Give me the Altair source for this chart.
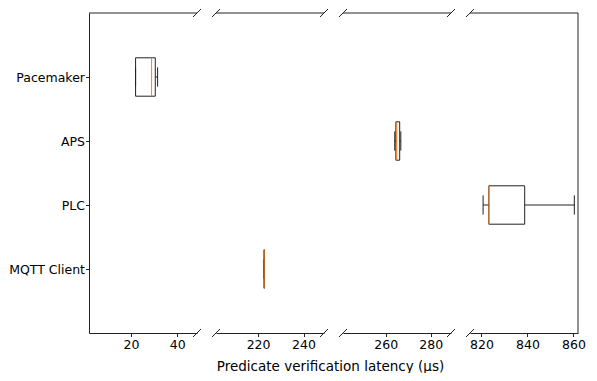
import altair as alt
import pandas as pd

categories = ["Pacemaker", "APS", "PLC", "MQTT Client"]
positions = [4, 3, 2, 1]
whisker_lo = [22.0, 264.0, 820.7, 222.7]
q1 = [22.0, 264.5, 823.2, 222.6]
median = [28.9, 264.9, 823.3, 222.7]
q3 = [30.5, 266.2, 838.8, 222.8]
whisker_hi = [31.5, 266.7, 860.4, 222.7]
panel_of = [0, 2, 3, 1]

panel_domains = [[1.9, 48.5], [201.5, 249.0], [241.0, 289.0], [815.0, 862.0]]
panel_ticks = [[20, 40], [220, 240], [260, 280], [820, 840, 860]]
x_title = "Predicate verification latency (µs)"

df = pd.DataFrame({
    "cat": categories, "pos": positions, "lo": whisker_lo, "q1": q1,
    "med": median, "q3": q3, "hi": whisker_hi, "panel": panel_of,
})
df["y_lo"] = df["pos"] - 0.3
df["y_hi"] = df["pos"] + 0.3
df["c_lo"] = df["pos"] - 0.15
df["c_hi"] = df["pos"] + 0.15

W, H = 108, 320
SP = 19
FONT = "DejaVu Sans"
INK = "#222222"

label_expr = " : ".join(
    f"datum.value == {p} ? '{c}'" for p, c in zip(positions, categories)
) + " : ''"

one = alt.Data(values=[{"k": 0}])


def seg(x0, y0, x1, y1):
    return alt.Chart(one).mark_rule(color=INK, strokeWidth=1, clip=False).encode(
        x=alt.value(x0), y=alt.value(y0), x2=alt.value(x1), y2=alt.value(y1)
    )


def slash(xc, yc):
    return seg(xc - 4, yc + 4, xc + 4, yc - 4)


def panel_chart(i):
    xs = alt.Scale(domain=panel_domains[i], nice=False, zero=False)
    ys = alt.Scale(domain=[0, 5], nice=False, zero=False)
    xaxis = alt.Axis(
        values=panel_ticks[i], grid=False, tickSize=3.5, labelPadding=2,
        labelFontSize=12.5, labelFont=FONT, labelColor="black",
        domainColor=INK, tickColor=INK, labelFlush=False,
        title=x_title if i == 1 else None,
        titleFont=FONT, titleFontSize=13.5, titleFontWeight="normal",
        titleColor="black",
        **({"titleX": 114, "titleY": 26,
            "titleAlign": "center", "titleBaseline": "top"} if i == 1 else {}),
    )
    if i == 0:
        yaxis = alt.Axis(
            values=positions, labelExpr=label_expr, title=None, grid=False,
            tickSize=3.5, labelPadding=1, labelFontSize=12.5, labelFont=FONT,
            labelColor="black", domainColor=INK, tickColor=INK,
        )
    else:
        yaxis = None

    base = alt.Chart(df).transform_filter(alt.datum.panel == i)
    box = base.mark_bar(fill="white", stroke=INK, strokeWidth=1).encode(
        x=alt.X("q1:Q", scale=xs, axis=xaxis), x2="q3:Q",
        y=alt.Y("y_lo:Q", scale=ys, axis=yaxis), y2="y_hi:Q",
    )
    wl = base.mark_rule(color=INK, strokeWidth=1).encode(
        x=alt.X("lo:Q", scale=xs, axis=xaxis), x2="q1:Q",
        y=alt.Y("pos:Q", scale=ys, axis=yaxis),
    )
    wh = base.mark_rule(color=INK, strokeWidth=1).encode(
        x=alt.X("q3:Q", scale=xs, axis=xaxis), x2="hi:Q",
        y=alt.Y("pos:Q", scale=ys, axis=yaxis),
    )
    cl = base.mark_rule(color=INK, strokeWidth=1).encode(
        x=alt.X("lo:Q", scale=xs, axis=xaxis),
        y=alt.Y("c_lo:Q", scale=ys, axis=yaxis), y2="c_hi:Q",
    )
    ch = base.mark_rule(color=INK, strokeWidth=1).encode(
        x=alt.X("hi:Q", scale=xs, axis=xaxis),
        y=alt.Y("c_lo:Q", scale=ys, axis=yaxis), y2="c_hi:Q",
    )
    med = base.mark_rule(color="#ff7f0e", strokeWidth=1).encode(
        x=alt.X("med:Q", scale=xs, axis=xaxis),
        y=alt.Y("y_lo:Q", scale=ys, axis=yaxis), y2="y_hi:Q",
    )
    layers = [box, wl, wh, cl, ch, med, seg(0, 0, W, 0)]
    if i == 3:
        layers.append(seg(W, 0, W, H))
    if i > 0:
        layers += [slash(0, 0), slash(0, H)]
    if i < 3:
        layers += [slash(W, 0), slash(W, H)]
    return alt.layer(*layers).properties(width=W, height=H)


chart = alt.hconcat(
    *[panel_chart(i) for i in range(4)], spacing=SP, bounds="flush"
).properties(
    padding={"left": 0, "top": 0, "right": 0, "bottom": 0},
    background="white",
).configure_view(stroke="transparent", strokeWidth=0)

chart.save("out.html", embed_options={"renderer": "svg", "actions": False})
